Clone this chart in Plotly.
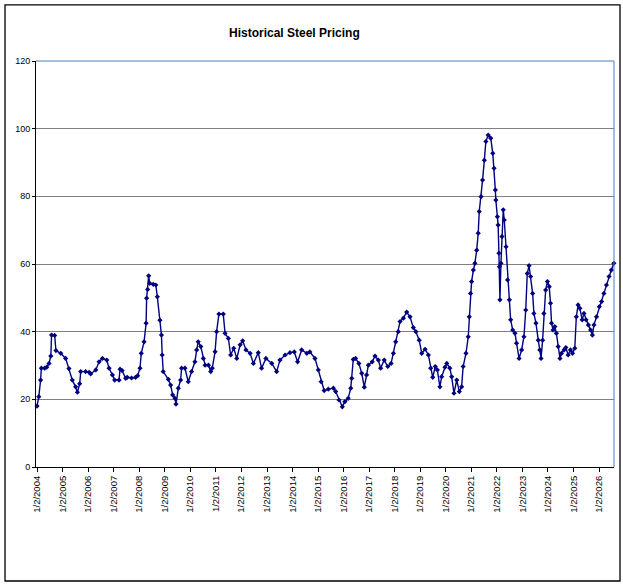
import pandas as pd
import plotly.graph_objects as go

# Decimal-year positions and prices
year_pos = [
    2004.00, 2004.07, 2004.14, 2004.17, 2004.30, 2004.38, 2004.47, 2004.54, 2004.57, 2004.69,
    2004.74, 2004.93, 2005.12, 2005.25, 2005.38, 2005.51, 2005.58, 2005.67, 2005.71, 2005.90,
    2006.04, 2006.10, 2006.30, 2006.43, 2006.56, 2006.73, 2006.82, 2006.95, 2007.04, 2007.21,
    2007.25, 2007.33, 2007.47, 2007.53, 2007.70, 2007.86, 2007.94, 2008.03, 2008.08, 2008.19,
    2008.27, 2008.29, 2008.33, 2008.37, 2008.41, 2008.55, 2008.65, 2008.71, 2008.81, 2008.87,
    2008.90, 2008.94, 2009.14, 2009.23, 2009.31, 2009.40, 2009.44, 2009.53, 2009.62, 2009.66,
    2009.79, 2009.92, 2010.05, 2010.18, 2010.25, 2010.31, 2010.41, 2010.51, 2010.58, 2010.71,
    2010.80, 2010.86, 2010.97, 2011.03, 2011.12, 2011.29, 2011.36, 2011.49, 2011.58, 2011.70,
    2011.82, 2011.95, 2012.05, 2012.18, 2012.34, 2012.47, 2012.66, 2012.79, 2012.96, 2013.19,
    2013.38, 2013.51, 2013.71, 2013.90, 2014.07, 2014.20, 2014.36, 2014.56, 2014.68, 2014.88,
    2015.01, 2015.12, 2015.24, 2015.40, 2015.60, 2015.69, 2015.82, 2015.95, 2016.05, 2016.18,
    2016.28, 2016.32, 2016.38, 2016.47, 2016.60, 2016.71, 2016.81, 2016.90, 2016.97, 2017.12,
    2017.23, 2017.36, 2017.45, 2017.59, 2017.73, 2017.86, 2017.95, 2018.04, 2018.14, 2018.21,
    2018.34, 2018.47, 2018.60, 2018.73, 2018.83, 2018.96, 2019.06, 2019.19, 2019.32, 2019.41,
    2019.49, 2019.59, 2019.67, 2019.77, 2019.84, 2019.97, 2020.04, 2020.16, 2020.23, 2020.32,
    2020.43, 2020.53, 2020.62, 2020.68, 2020.79, 2020.88, 2020.92, 2020.97, 2021.01, 2021.08,
    2021.14, 2021.21, 2021.27, 2021.31, 2021.38, 2021.44, 2021.51, 2021.57, 2021.66, 2021.76,
    2021.84, 2021.89, 2021.94, 2021.96, 2022.02, 2022.05, 2022.08, 2022.10, 2022.12, 2022.16,
    2022.20, 2022.25, 2022.29, 2022.36, 2022.42, 2022.49, 2022.54, 2022.62, 2022.71, 2022.77,
    2022.87, 2022.97, 2023.06, 2023.13, 2023.19, 2023.26, 2023.32, 2023.40, 2023.45, 2023.53,
    2023.62, 2023.68, 2023.73, 2023.79, 2023.84, 2023.91, 2023.98, 2024.05, 2024.10, 2024.14,
    2024.20, 2024.27, 2024.33, 2024.40, 2024.47, 2024.53, 2024.63, 2024.70, 2024.79, 2024.88,
    2024.96, 2025.05, 2025.11, 2025.18, 2025.25, 2025.34, 2025.41, 2025.49, 2025.58, 2025.67,
    2025.74, 2025.80, 2025.90, 2026.01, 2026.10, 2026.19, 2026.29, 2026.39, 2026.48, 2026.58,
]

price = [
    18.0, 20.8, 25.7, 29.2, 29.2, 29.5, 30.6, 32.8, 39.0, 38.9,
    34.4, 33.6, 32.1, 29.1, 25.7, 23.7, 22.1, 24.6, 28.2, 28.2,
    28.0, 27.5, 28.7, 31.1, 32.1, 31.6, 29.2, 27.2, 25.7, 25.7,
    28.9, 28.5, 26.2, 26.5, 26.3, 26.5, 27.0, 29.2, 33.6, 37.0,
    42.5, 49.9, 52.5, 56.5, 54.3, 54.0, 53.8, 50.3, 43.4, 39.0,
    33.1, 28.2, 25.9, 24.2, 21.3, 20.3, 18.6, 23.3, 25.7, 29.2,
    29.2, 25.2, 28.2, 31.1, 34.6, 37.0, 35.6, 32.1, 30.1, 30.1,
    28.2, 29.2, 34.1, 40.0, 45.2, 45.2, 39.5, 38.0, 33.1, 35.1,
    32.1, 36.1, 37.3, 34.6, 33.6, 30.6, 33.8, 29.2, 32.1, 30.6,
    28.2, 31.6, 33.1, 33.8, 34.0, 31.1, 34.6, 33.6, 34.0, 32.1,
    28.7, 25.2, 22.6, 23.0, 23.3, 22.3, 19.8, 17.8, 19.3, 20.3,
    23.3, 26.2, 31.8, 32.1, 30.6, 27.7, 23.6, 27.2, 30.1, 31.1,
    32.8, 31.6, 29.2, 31.6, 29.7, 30.6, 33.6, 37.0, 40.0, 43.0,
    44.0, 45.8, 44.4, 41.2, 40.0, 37.5, 33.6, 34.8, 33.1, 29.2,
    26.5, 29.7, 28.7, 23.7, 26.7, 29.5, 30.6, 29.2, 26.7, 21.8,
    25.7, 22.3, 23.7, 29.7, 33.6, 38.5, 44.4, 51.3, 54.8, 58.2,
    60.2, 64.1, 69.1, 75.5, 79.9, 84.8, 90.7, 96.2, 98.1, 97.2,
    92.7, 88.3, 81.9, 78.9, 74.0, 71.5, 63.2, 59.2, 49.4, 60.2,
    68.1, 76.0, 73.0, 65.1, 55.3, 49.4, 43.5, 40.5, 39.5, 36.6,
    32.1, 34.6, 38.5, 46.4, 57.2, 59.5, 56.3, 51.3, 45.4, 42.5,
    37.5, 34.6, 32.1, 37.5, 45.4, 52.3, 54.8, 53.3, 48.4, 42.5,
    40.5, 41.5, 39.5, 35.6, 32.1, 33.6, 34.6, 35.3, 33.1, 34.6,
    33.6, 35.1, 44.4, 47.9, 46.9, 43.5, 45.4, 43.5, 42.0, 40.5,
    39.0, 42.0, 44.4, 47.4, 48.9, 51.3, 53.8, 56.3, 58.2, 60.2,
]

tick_years = list(range(2004, 2027))
tick_labels = [f"1/2/{y}" for y in tick_years]
y_ticks = [0, 20, 40, 60, 80, 100, 120]

BASE = pd.Timestamp("2004-01-02")


def to_date(t):
    return BASE + pd.to_timedelta((t - 2004) * 365.25, unit="D")


dates = [to_date(t) for t in year_pos]
tick_dates = [pd.Timestamp(f"{y}-01-02") for y in tick_years]

NAVY = "#000080"
FONT = "Liberation Sans, Arial, sans-serif"

fig = go.Figure()
fig.add_trace(go.Scatter(
    x=dates, y=price, mode="lines+markers",
    line=dict(color=NAVY, width=1.4),
    marker=dict(symbol="diamond", size=4, color=NAVY),
    showlegend=False, hoverinfo="x+y", cliponaxis=False,
))

fig.update_layout(
    width=623, height=586,
    margin=dict(l=36, r=9, t=61, b=119),
    paper_bgcolor="white", plot_bgcolor="white",
    font=dict(family=FONT, size=9, color="black"),
    showlegend=False,
    xaxis=dict(
        range=[to_date(2003.96), to_date(2026.585)],
        tickmode="array", tickvals=tick_dates, ticktext=tick_labels,
        tickangle=-90, ticks="outside", ticklen=4, tickcolor="black",
        showgrid=False, zeroline=False,
        showline=True, linecolor="black", linewidth=1,
        tickfont=dict(family=FONT, size=9.5, color="black"),
    ),
    yaxis=dict(
        range=[0, 120], tickmode="array", tickvals=y_ticks,
        ticks="outside", ticklen=3, tickcolor="black",
        showgrid=True, gridcolor="#808080", gridwidth=1,
        zeroline=False, showline=True, linecolor="black", linewidth=1,
        tickfont=dict(family=FONT, size=9, color="black"),
    ),
    shapes=[
        # plot area border (top/right in blue)
        dict(type="line", xref="paper", yref="paper", x0=0, x1=1, y0=1, y1=1,
             line=dict(color="#4a7ebb", width=1)),
        dict(type="line", xref="paper", yref="paper", x0=1, x1=1, y0=0, y1=1,
             line=dict(color="#4a7ebb", width=1)),
        # outer chart border
        dict(type="rect", xref="paper", yref="paper",
             x0=-0.0536, x1=1.0104, y0=-0.2808, y1=1.138,
             line=dict(color="black", width=1.3), fillcolor="rgba(0,0,0,0)",
             layer="below"),
    ],
    annotations=[
        dict(text="<b>Historical Steel Pricing</b>", xref="paper", yref="paper",
             x=0.448, y=1.069, xanchor="center", yanchor="middle", showarrow=False,
             font=dict(family=FONT, size=12, color="black")),
    ],
)

fig.write_html(
    "out.html",
    config={"displayModeBar": False},
    post_script="document.body.style.margin='0';document.body.style.overflow='hidden';",
)
